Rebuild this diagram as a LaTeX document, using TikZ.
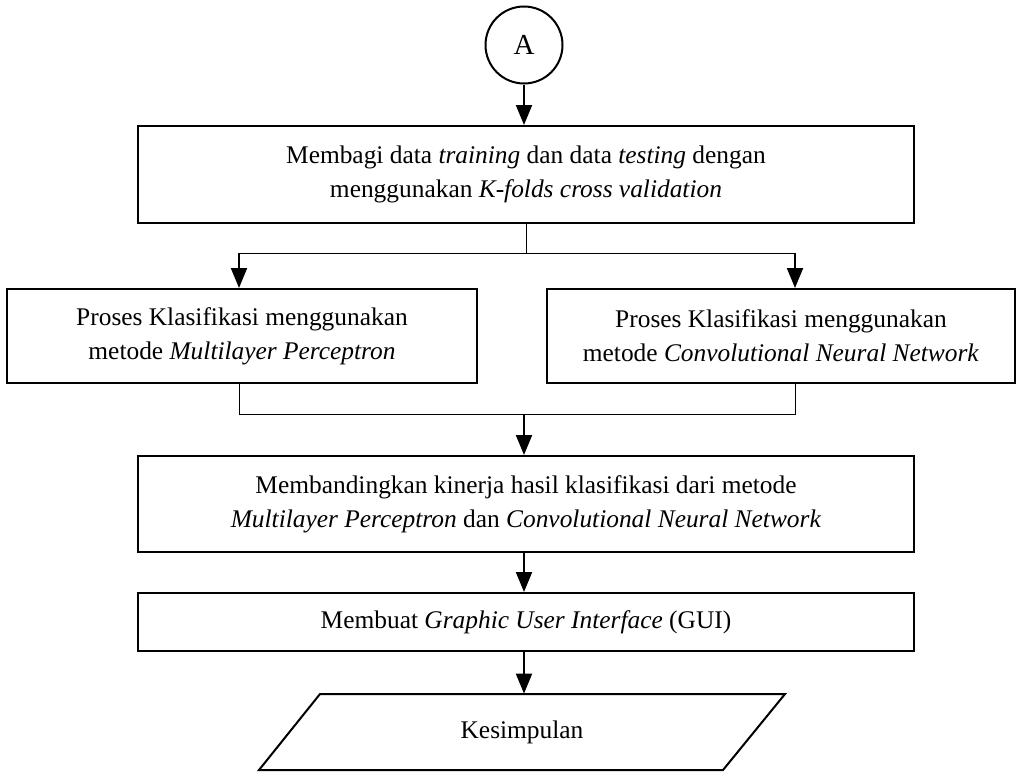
\documentclass[tikz,border=0pt]{standalone}
\usepackage{fontspec}
\setmainfont{Liberation Serif}
\usetikzlibrary{arrows.meta}
\begin{document}
\begin{tikzpicture}[x=0.5pt,y=-0.5pt,
  txt/.style={align=center,inner sep=0pt,font=\fontsize{12.7}{17}\selectfont},
  box/.style={txt,draw,line width=1pt},
  arr/.style={line width=1pt,-{Triangle[width=8pt,length=10pt]}},
  ln/.style={line width=0.5pt}]
\useasboundingbox (0,0) rectangle (1022,771);
\node[box,circle,minimum size=38.5pt,font=\fontsize{14.5}{17}\selectfont] (A) at (524,45) {A};
\node[box,minimum width=388pt,minimum height=48.5pt] (b1) at (526,174.5)
  {Membagi data \textit{training} dan data \textit{testing} dengan\\ menggunakan \textit{K-folds cross validation}};
\node[box,minimum width=235pt,minimum height=47pt] (L) at (242,336)
  {Proses Klasifikasi menggunakan\\ metode \textit{Multilayer Perceptron}};
\node[box,minimum width=234pt,minimum height=47pt] (R) at (781,336)
  {Proses Klasifikasi menggunakan\\ metode \textit{Convolutional Neural Network}};
\node[box,minimum width=388pt,minimum height=48pt] (b3) at (526,504)
  {Membandingkan kinerja hasil klasifikasi dari metode\\ \textit{Multilayer Perceptron} dan \textit{Convolutional Neural Network}};
\node[box,minimum width=388pt,minimum height=29pt] (b4) at (526,622)
  {Membuat \textit{Graphic User Interface} (GUI)};
\node[txt,minimum width=232pt,minimum height=38pt] (kes) at (522,732) {Kesimpulan};
\draw[line width=1pt] (320,694) -- (785,694) -- (723,770) -- (259,770) -- cycle;
% connectors
\draw[arr] (A.south) -- (A.south |- b1.north);
\coordinate (s1) at (526,253);
\coordinate (sl) at (239,253);
\coordinate (sr) at (795,253);
\draw[ln] (b1.south) -- (s1);
\draw[ln] (sl) -- (sr);
\draw[arr] (sl) -- (sl |- L.north);
\draw[arr] (sr) -- (sr |- R.north);
\coordinate (ml) at (239,414);
\coordinate (mr) at (795,414);
\coordinate (mc) at (524,414);
\draw[ln] (ml |- L.south) -- (ml) -- (mr) -- (mr |- R.south);
\draw[arr] (mc) -- (mc |- b3.north);
\draw[arr] (b3.south -| mc) -- (mc |- b4.north);
\draw[arr] (b4.south -| mc) -- (mc |- kes.north);
\end{tikzpicture}
\end{document}
